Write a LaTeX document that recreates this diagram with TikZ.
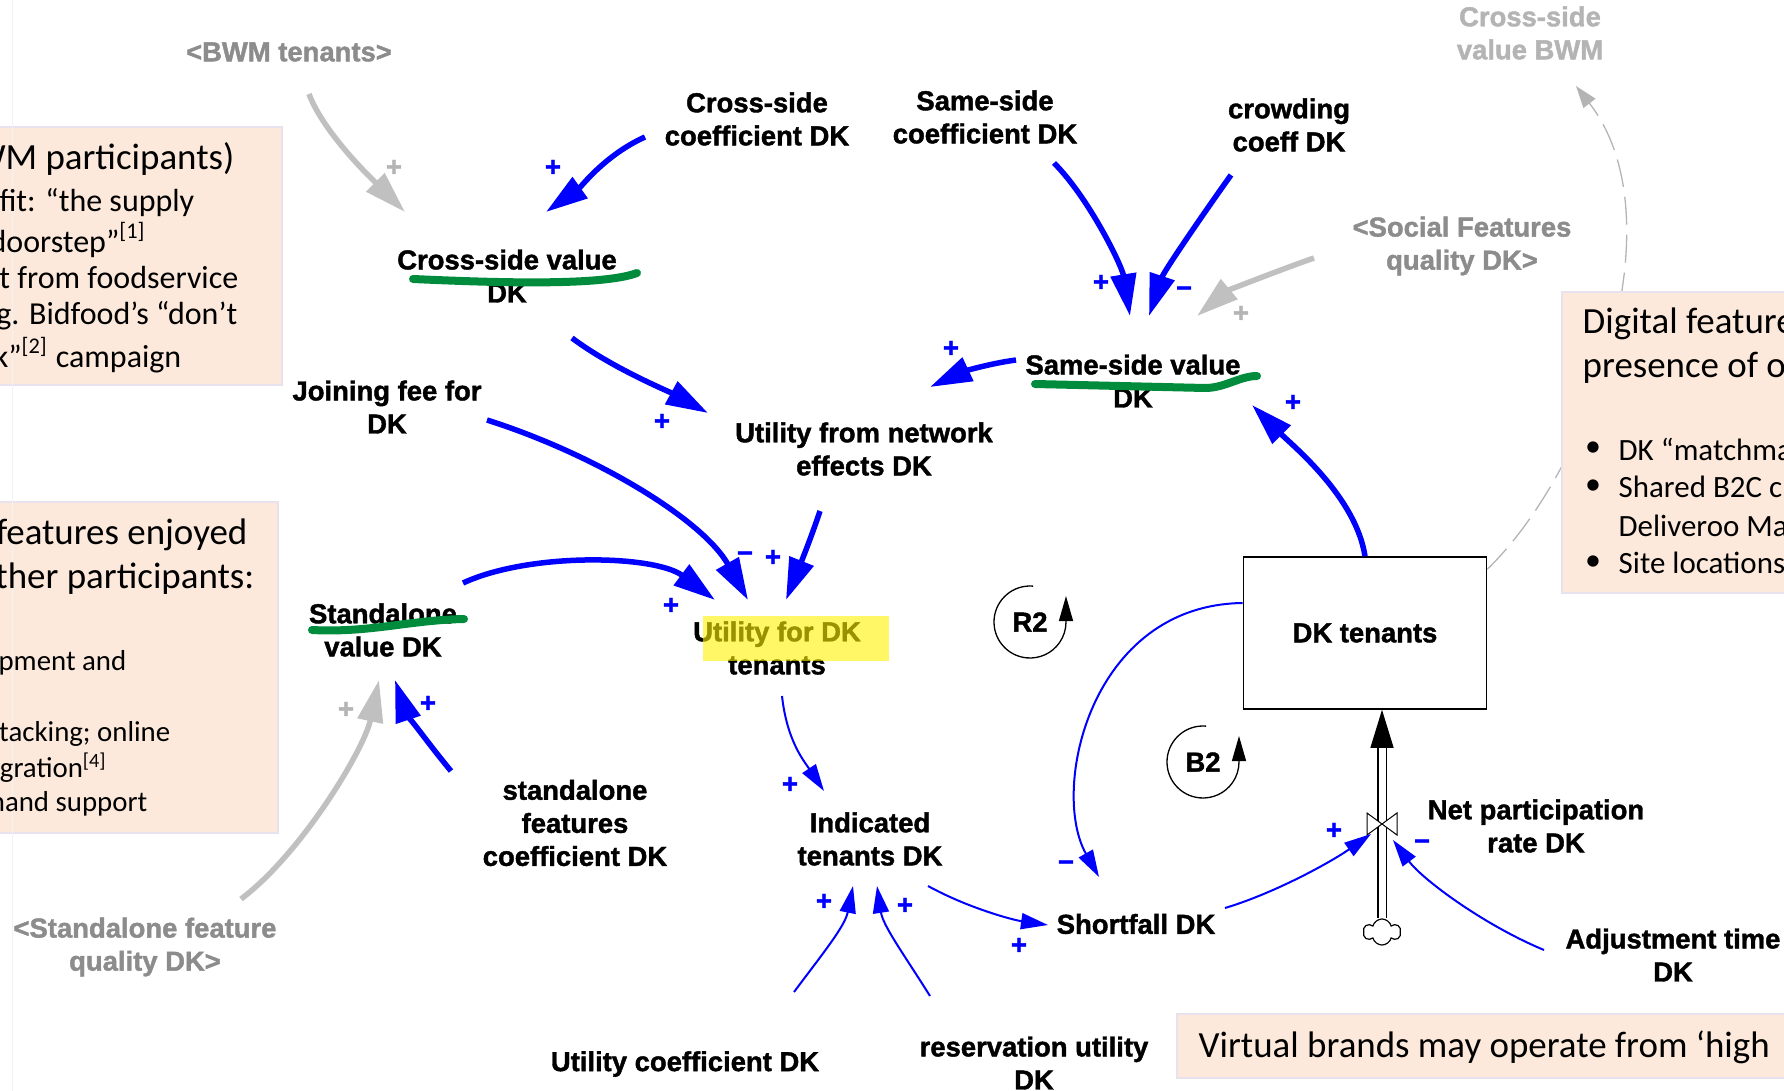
\documentclass[tikz,border=0pt]{standalone}
\usepackage{fontspec}
\setmainfont{Carlito}
\newfontfamily\vensimfont{Liberation Sans Bold}[FakeBold=1.5]
\usetikzlibrary{arrows.meta,shapes.symbols}

\definecolor{vblue}{RGB}{0,0,255}
\definecolor{ghostgrey}{RGB}{140,140,140}
\definecolor{palegrey}{RGB}{180,180,180}
\definecolor{linkgrey}{RGB}{192,192,192}
\definecolor{peach}{RGB}{252,233,219}
\definecolor{noteedge}{RGB}{232,226,238}
\definecolor{hlgreen}{RGB}{0,140,60}

\tikzset{
  var/.style={font=\vensimfont\fontsize{7.8}{9.4}\selectfont, align=center, inner sep=0pt},
  ghost/.style={var, text=ghostgrey},
  pol/.style={font=\vensimfont\fontsize{7.8}{8}\selectfont, inner sep=0pt},
  link/.style={draw=vblue, line width=0.055cm, -{Triangle[length=0.42cm,width=0.25cm]}},
  greylink/.style={link, draw=linkgrey},
  thinlink/.style={draw=vblue, line width=0.02cm, -{Triangle[length=0.27cm,width=0.16cm]}},
  dashlink/.style={draw=palegrey, line width=0.013cm, dash pattern=on 0.28cm off 0.1cm, -{Triangle[length=0.22cm,width=0.15cm]}},
  looparrow/.style={draw=black, line width=0.013cm, -{Triangle[length=0.25cm,width=0.14cm]}},
  stock/.style={var, draw=black, fill=white, line width=0.015cm, minimum width=2.43cm, minimum height=1.52cm},
  note/.style={fill=peach, draw=noteedge, line width=0.02cm},
  notetitle/.style={font=\fontsize{10.5}{12.5}\selectfont, inner sep=0pt},
  notebody/.style={font=\fontsize{9.1}{10.8}\selectfont, inner sep=0pt},
  marker/.style={draw=hlgreen, line width=0.08cm, line cap=round},
}

\begin{document}
\begin{tikzpicture}[x=0.01cm, y=-0.01cm]
\useasboundingbox (0,0) rectangle (1784,1091);
\clip (0,0) rectangle (1784,1091);

% shadow variables
\node[ghost] (bwm) at (289,52) {<BWM tenants>};
\node[ghost, text=palegrey] (csbwm) at (1530,33) {Cross-side\\value BWM};
\node[ghost] (social) at (1462,246) {<Social Features\\quality DK>};
\node[ghost] (sfq) at (145,947) {<Standalone feature\\quality DK>};

% variables
\node[var] (ccoef) at (757,119) {Cross-side\\coefficient DK};
\node[var] (scoef) at (985,117) {Same-side\\coefficient DK};
\node[var] (crowd) at (1289,125) {crowding\\coeff DK};
\node[var] (csval) at (507,276) {Cross-side value\\DK};
\node[var] (ssval) at (1133,381) {Same-side value\\DK};
\node[var] (fee) at (387,407) {Joining fee for\\DK};
\node[var] (unet) at (864,449) {Utility from network\\effects DK};
\node[var] (sval) at (383,630) {Standalone\\value DK};
\node[var] (udk) at (777,648) {Utility for DK\\tenants};
\node[var] (sfc) at (575,823) {standalone\\features\\coefficient DK};
\node[var] (ind) at (870,839) {Indicated\\tenants DK};
\node[var] (short) at (1136,924) {Shortfall DK};
\node[var] (npr) at (1536,826) {Net participation\\rate DK};
\node[var] (adj) at (1673,955) {Adjustment time\\DK};
\node[var] (ucoef) at (685,1064) {Utility coefficient DK};
\node[var] (resv) at (1034,1063) {reservation utility\\DK};
\node[stock] (tenants) at (1365,633) {DK tenants};
\coordinate (valve) at (1382,824);

% link to the BWM side, behind the note
\draw[dashlink] ([shift={(0,13)}]tenants.north east) .. controls (1590,470) and (1680,220) .. ([shift={(46,53)}]csbwm.center);

% notes
\draw[note] (-30,127) rectangle (282,385);
\draw[note] (-30,502) rectangle (278,833);
\draw[note] (1562,292) rectangle (1830,593);
\draw[note] (1177,1014) rectangle (1830,1078);
\draw[white!90!gray, line width=0.01cm] (12,0) -- (12,1091);

\node[notetitle, anchor=east] (bwmhead) at (235,159) {WM participants)};
\node[notebody, anchor=east] (bwm1) at (195,203) {fit: “the supply};
\node[notebody, anchor=east] (bwm2) at (147,240) {doorstep”\textsuperscript{[1]}};
\node[notebody, anchor=east] (bwm3) at (239,278) {t from foodservice};
\node[notebody, anchor=east] (bwm4) at (238,316) {g. Bidfood’s “don’t};
\node[notebody, anchor=east] (bwm5) at (182,355) {k”\textsuperscript{[2]} campaign};

\node[notetitle, anchor=east] (sfhead1) at (248,535) {features enjoyed};
\node[notetitle, anchor=east] (sfhead2) at (255,579) {ther participants:};
\node[notebody, anchor=east, font=\fontsize{8.2}{10.8}\selectfont] (sf1) at (127,663) {pment and};
\node[notebody, anchor=east, font=\fontsize{8.2}{10.8}\selectfont] (sf2) at (171,734) {tacking; online};
\node[notebody, anchor=east, font=\fontsize{8.2}{10.8}\selectfont] (sf3) at (108,768) {gration\textsuperscript{[4]}};
\node[notebody, anchor=east, font=\fontsize{8.2}{10.8}\selectfont] (sf4) at (148,804) {hand support};

\node[notetitle, anchor=west] (dfhead1) at (1582,324) {Digital feature};
\node[notetitle, anchor=west] (dfhead2) at (1582,368) {presence of o};
\node[notebody] (dot1) at (1593,449) {•};
\node[notebody, anchor=west, font=\fontsize{8.8}{10.8}\selectfont] (df1) at (1618,449) {DK “matchma};
\node[notebody] (dot2) at (1593,487) {•};
\node[notebody, anchor=west, font=\fontsize{8.8}{10.8}\selectfont] (df2) at (1618,487) {Shared B2C c};
\node[notebody, anchor=west, font=\fontsize{8.8}{10.8}\selectfont] (df3) at (1618,526) {Deliveroo Ma};
\node[notebody] (dot3) at (1593,563) {•};
\node[notebody, anchor=west, font=\fontsize{8.8}{10.8}\selectfont] (df4) at (1618,563) {Site locations};

\node[notetitle, anchor=west] (vbtext) at (1198,1047) {Virtual brands may operate from ‘high};

% cross-side and same-side values
\draw[link] ([shift={(-112,18)}]ccoef.center) .. controls (605,155) and (581,187) .. ([shift={(39,-64)}]csval.center);
\draw[greylink] ([shift={(20,42)}]bwm.center) .. controls (324,134) and (375,182) .. ([shift={(-102,-64)}]csval.center);
\draw[link] ([shift={(69,46)}]scoef.center) .. controls (1089,198) and (1122,266) .. ([shift={(-3,-65)}]ssval.center);
\draw[link] ([shift={(-58,50)}]crowd.center) .. controls (1206,210) and (1164,271) .. ([shift={(16,-65)}]ssval.center);
\draw[greylink] ([shift={(-148,12)}]social.center) .. controls (1274,272) and (1227,291) .. ([shift={(64,-65)}]ssval.center);
\draw[link] (tenants.north) .. controls (1356,497) and (1292,445) .. ([shift={(119,24)}]ssval.center);

% network effects and utility
\draw[link] ([shift={(65,62)}]csval.center) .. controls (612,368) and (668,391) .. ([shift={(-156,-36)}]unet.center);
\draw[link] ([shift={(-117,-21)}]ssval.center) .. controls (986,364) and (960,373) .. ([shift={(66,-62)}]unet.center);
\draw[link] ([shift={(100,13)}]fee.center) .. controls (597,455) and (703,520) .. ([shift={(-29,-48)}]udk.center);
\draw[link] ([shift={(-44,62)}]unet.center) .. controls (810,541) and (798,570) .. ([shift={(9,-48)}]udk.center);
\draw[link] ([shift={(80,-47)}]sval.center) .. controls (530,552) and (655,555) .. ([shift={(-62,-48)}]udk.center);
\draw[greylink] ([shift={(96,-48)}]sfq.center) .. controls (301,854) and (364,750) .. ([shift={(-4,50)}]sval.center);
\draw[link] ([shift={(-124,-52)}]sfc.center) .. controls (426,741) and (405,710) .. ([shift={(12,50)}]sval.center);

% tenants, shortfall and flow
\draw[thinlink] ([shift={(5,48)}]udk.center) .. controls (787,741) and (804,761) .. ([shift={(-46,-48)}]ind.center);
\draw[thinlink] ([shift={(109,-72)}]ucoef.center) .. controls (824,952) and (845,926) .. ([shift={(-17,47)}]ind.center);
\draw[thinlink] ([shift={(-104,-67)}]resv.center) .. controls (905,956) and (883,926) .. ([shift={(7,47)}]ind.center);
\draw[thinlink] ([shift={(58,47)}]ind.center) .. controls (968,908) and (1013,920) .. ([shift={(-88,1)}]short.center);
\draw[thinlink] ([shift={(0,-30)}]tenants.west) .. controls (1090,605) and (1050,790) .. ([shift={(-37,-47)}]short.center);

\node[cloud, draw, fill=white, cloud puffs=6, minimum width=0.37cm, minimum height=0.26cm, inner sep=0pt, line width=0.012cm] (cloud) at (1382,932) {};
\draw[line width=0.013cm, double distance=0.07cm] (cloud.north) -- ([shift={(17,38)}]tenants.south);
\draw[-{Triangle[length=0.38cm,width=0.23cm]}, line width=0.013cm] ([shift={(17,38)}]tenants.south) -- ([shift={(17,0)}]tenants.south);
\draw[fill=white, line width=0.01cm] ([shift={(-15,-11)}]valve) -- ([shift={(-15,11)}]valve) -- ([shift={(15,-11)}]valve) -- ([shift={(15,11)}]valve) -- cycle;

\draw[thinlink] ([shift={(89,-16)}]short.center) .. controls (1275,893) and (1331,862) .. ([shift={(-11,10)}]valve);
\draw[thinlink] ([shift={(-129,-5)}]adj.center) .. controls (1484,925) and (1423,880) .. ([shift={(11,16)}]valve);

% loops
\node[var] (r2) at (1030,622) {R2};
\draw[looparrow] ([shift={(-85:36)}]r2.center) arc[start angle=-85, end angle=-360, radius=36] -- ++(0,-26);
\node[var] (b2) at (1203,762) {B2};
\draw[looparrow] ([shift={(-85:36)}]b2.center) arc[start angle=-85, end angle=-360, radius=36] -- ++(0,-26);

% polarities
\foreach \px/\py/\sg/\cl [count=\k] in {553/168/+/vblue, 662/422/+/vblue, 1101/283/+/vblue, 1184/291/–/vblue,
    1241/314/+/palegrey, 951/349/+/vblue, 1293/403/+/vblue, 745/556/–/vblue, 773/558/+/vblue, 671/606/+/vblue,
    394/168/+/palegrey, 346/710/+/palegrey, 428/704/+/vblue, 790/785/+/vblue, 824/902/+/vblue, 905/906/+/vblue,
    1019/946/+/vblue, 1066/865/–/vblue, 1334/831/+/vblue, 1422/844/–/vblue}
  \node[pol, text=\cl] (pol\k) at (\px,\py) {\sg};

% highlighting
\draw[marker] (413,279) .. controls (480,282) and (600,287) .. (637,273);
\draw[marker] (1035,384) -- (1205,388) .. controls (1225,388) and (1240,376) .. (1257,376);
\draw[marker] (312,630) .. controls (370,633) and (410,620) .. (464,619);
\fill[yellow, opacity=0.6] (703,616) rectangle (889,661);
\end{tikzpicture}
\end{document}
